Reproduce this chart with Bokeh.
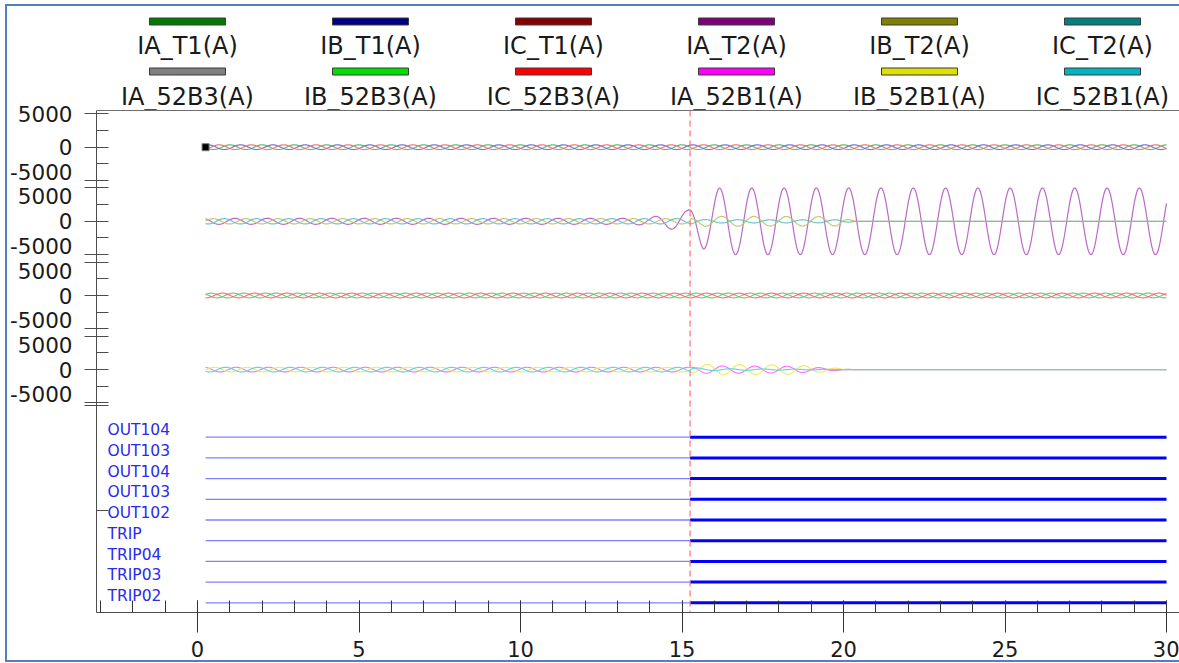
import numpy as np
from bokeh.plotting import figure
from bokeh.models import (Range1d, FixedTicker, SingleIntervalTicker, LinearAxis,
                          Span, CustomJSTickFormatter)
from bokeh.core.properties import value
from bokeh.embed import file_html
from bokeh.resources import INLINE

# ---------------- data ----------------
channel_names = ["IA_T1(A)", "IB_T1(A)", "IC_T1(A)", "IA_T2(A)", "IB_T2(A)", "IC_T2(A)",
                 "IA_52B3(A)", "IB_52B3(A)", "IC_52B3(A)", "IA_52B1(A)", "IB_52B1(A)", "IC_52B1(A)"]
channel_panel = [0, 0, 0, 1, 1, 1, 2, 2, 2, 3, 3, 3]

# peak amplitude envelopes: [times (cycles)], [amplitude (A)]
env_IA_T1 = [[0.25, 30.0], [350, 350]]
env_IB_T1 = [[0.25, 30.0], [350, 350]]
env_IC_T1 = [[0.25, 30.0], [350, 350]]
env_IA_T2 = [[0.25, 13.3, 14.0, 15.17, 15.66, 16.16, 30.0], [450, 450, 600, 1600, 4150, 5000, 5000]]
env_IB_T2 = [[0.25, 15.25, 15.7, 19.8, 20.4, 30.0], [400, 400, 750, 700, 0, 0]]
env_IC_T2 = [[0.25, 15.25, 15.7, 20.0, 20.4, 30.0], [400, 400, 250, 220, 0, 0]]
env_IA_52B3 = [[0.25, 30.0], [350, 350]]
env_IB_52B3 = [[0.25, 30.0], [350, 350]]
env_IC_52B3 = [[0.25, 30.0], [350, 350]]
env_IA_52B1 = [[0.25, 15.25, 15.7, 18.5, 20.3, 30.0], [350, 350, 550, 500, 0, 0]]
env_IB_52B1 = [[0.25, 15.25, 15.7, 18.5, 20.3, 30.0], [350, 350, 800, 700, 0, 0]]
env_IC_52B1 = [[0.25, 15.25, 15.7, 20.3, 30.0], [350, 350, 150, 0, 0]]
envelopes = [env_IA_T1, env_IB_T1, env_IC_T1, env_IA_T2, env_IB_T2, env_IC_T2,
             env_IA_52B3, env_IB_52B3, env_IC_52B3, env_IA_52B1, env_IB_52B1, env_IC_52B1]

# position of the positive peak inside a cycle, before and after the fault
peak_pre = [0.0, 0.333, 0.667, 0.16, 0.49, 0.83, 0.1, 0.43, 0.77, 0.2, 0.53, 0.87]
peak_post = [0.0, 0.333, 0.667, 0.16, 0.23, 0.73, 0.1, 0.43, 0.77, 0.25, 0.78, 0.5]

record_start = 0.25
record_end = 30.0
fault_time = 15.25

digital_names = ["OUT104", "OUT103", "OUT104", "OUT103", "OUT102", "TRIP", "TRIP04", "TRIP03", "TRIP02"]
digital_on_time = [15.25, 15.25, 15.25, 15.25, 15.25, 15.25, 15.25, 15.25, 15.25]

y_tick_values = [5000, 0, -5000]
x_tick_interval = 5

# ---------------- styles / layout ----------------
legend_colors = ["#007a00", "#00008a", "#8a0000", "#800080", "#808000", "#008080",
                 "#808080", "#00e000", "#ff0000", "#ff00ff", "#e0e000", "#00b4c0"]
trace_colors = ["#5cbc5c", "#7070dc", "#ee7474", "#b860c4", "#c4c468", "#68c2c2",
                "#a4a4a4", "#5cd85c", "#ff6c6c", "#ff6cff", "#ecec5c", "#5cd6dc"]
FONT = "DejaVu Sans"
W, H = 1179, 663
X0_PX, PX_PER_CYCLE = 197, 32.3
FRAME_L, FRAME_T, FRAME_B = 96, 0, 612
panel_center_px = [146.7, 220.8, 295.0, 369.1]
AMP_PER_PX = 150.0
dig_first_px, dig_step_px = 436.7, 20.7
legend_col_px = [187, 370, 553, 736, 919, 1102]
legend_bar_px = [21, 71]
legend_text_px = [45, 96]
BORDER = "#4f81bd"


def px_to_t(px):
    return (px - X0_PX) / PX_PER_CYCLE


p = figure(width=W, height=H, output_backend="svg", toolbar_location=None,
           x_range=Range1d(px_to_t(FRAME_L), px_to_t(W)), y_range=Range1d(FRAME_B, FRAME_T),
           min_border_left=FRAME_L, min_border_right=0, min_border_top=0,
           min_border_bottom=H - FRAME_B, background_fill_color=None,
           border_fill_color=None)
p.outline_line_color = None
p.grid.visible = False
p.styles = {"background-color": "white",
            "box-shadow": ("inset 5px 0 0 0 white, inset 0 4px 0 0 white, inset 0 -1px 0 0 white, "
                           f"inset 7px 0 0 0 {BORDER}, inset 0 6px 0 0 {BORDER}, inset 0 -3px 0 0 {BORDER}")}

extra = {}
for k, c in enumerate(panel_center_px):
    extra[f"p{k}"] = Range1d(-(FRAME_B - c) * AMP_PER_PX, (c - FRAME_T) * AMP_PER_PX)
extra["dig"] = Range1d((FRAME_B - dig_first_px) / dig_step_px, (FRAME_T - dig_first_px) / dig_step_px)
p.extra_y_ranges = extra

# ---- x axis ----
xa = p.xaxis[0]
xa.ticker = SingleIntervalTicker(interval=x_tick_interval, num_minor_ticks=5)
xa.major_tick_in = 12
xa.major_tick_out = 20
xa.minor_tick_in = 12
xa.minor_tick_out = 0
xa.axis_line_color = "#4d4d4d"
xa.major_tick_line_color = "#333333"
xa.minor_tick_line_color = "#333333"
xa.major_label_text_font = FONT
xa.major_label_text_font_size = "21px"
xa.major_label_text_color = "#1a1a1a"
xa.major_label_standoff = 8

# ---- y axis: tick marks (inner) ----
major_px, minor_px = [], []
s = 5000 / AMP_PER_PX
for c in panel_center_px:
    major_px += [c - s, c, c + s]
    minor_px += [c - s / 2, c + s / 2]
major_px.append(405)
minor_px.append(510)
ya = p.yaxis[0]
ya.ticker = FixedTicker(ticks=major_px, minor_ticks=minor_px)
ya.bounds = (110, FRAME_B)
ya.major_tick_in = 12
ya.major_tick_out = 12
ya.minor_tick_in = 12
ya.minor_tick_out = 0
ya.axis_line_color = "#4d4d4d"
ya.major_tick_line_color = "#4d4d4d"
ya.minor_tick_line_color = "#4d4d4d"
ya.major_label_standoff = 0
ya.formatter = CustomJSTickFormatter(code="return ''")

# ---- y axis: value labels (outer axis, no line / ticks) ----
lab_y, lab_t = [], []
for k, c in enumerate(panel_center_px):
    for v in y_tick_values:
        y = c - v / AMP_PER_PX
        if v > 0 and k > 0:
            y += 8.5
        if v < 0:
            y -= 9
        lab_y.append(round(y, 2))
        lab_t.append(str(v))
la = LinearAxis(ticker=FixedTicker(ticks=lab_y, minor_ticks=[]),
                formatter=CustomJSTickFormatter(args=dict(pos=lab_y, labels=lab_t), code="""
let b = 0;
for (let i = 0; i < pos.length; i++) { if (Math.abs(pos[i] - tick) < Math.abs(pos[b] - tick)) b = i; }
return labels[b];"""),
                axis_line_color=None, major_tick_in=0, major_tick_out=0,
                minor_tick_in=0, minor_tick_out=0, major_label_standoff=12,
                major_label_text_font=FONT, major_label_text_font_size="21.5px",
                major_label_text_color="#1a1a1a")
p.add_layout(la, "left")

# top frame line
p.add_layout(Span(location=110, dimension="width", line_color="#6e6e6e", line_width=1))

# ---- analog traces ----
t = np.arange(record_start, record_end + 1e-9, 1 / 48)
for i, name in enumerate(channel_names):
    et, ea = envelopes[i]
    env = np.interp(t, et, ea)
    pk = np.where(t < fault_time, peak_pre[i], peak_post[i])
    y = env * np.cos(2 * np.pi * (t - pk))
    p.line(t, y, y_range_name=f"p{channel_panel[i]}", line_color=trace_colors[i],
           line_width=1.2, line_alpha=0.95)

p.scatter([record_start], [0], y_range_name="p0", marker="square", size=7,
          fill_color="black", line_color="#777777")

# ---- digital channels ----
n = len(digital_names)
idx = list(range(n))
p.segment(x0=[record_start] * n, y0=idx, x1=digital_on_time, y1=idx, y_range_name="dig",
          line_color="#8080ff", line_width=1.3)
p.segment(x0=digital_on_time, y0=idx, x1=[record_end] * n, y1=idx, y_range_name="dig",
          line_color="#0000ff", line_width=3)
p.text(x=[px_to_t(107)] * n, y=[i - 0.33 for i in idx], text=digital_names, y_range_name="dig",
       text_font=value(FONT), text_font_size="15.5px", text_color="#2a2af0",
       text_align="left", text_baseline="alphabetic")

# fault cursor
p.segment(x0=[fault_time], y0=[110], x1=[fault_time], y1=[FRAME_B], line_color="#ff7070",
          line_width=1.2, line_dash="6 4")

# ---- legend ----
lx = [px_to_t(legend_col_px[j % 6]) for j in range(12)]
lyb = [legend_bar_px[j // 6] for j in range(12)]
lyt = [legend_text_px[j // 6] for j in range(12)]
p.rect(x=lx, y=lyb, width=76, height=7, width_units="screen", height_units="screen",
       fill_color=legend_colors, line_color="#3a3a3a", line_width=1)
p.text(x=lx, y=lyt, text=channel_names, text_font=value(FONT), text_font_size="24px",
       text_color="#1a1a1a", text_align="center", text_baseline="alphabetic")

open("out.html", "w").write(file_html(p, INLINE))
